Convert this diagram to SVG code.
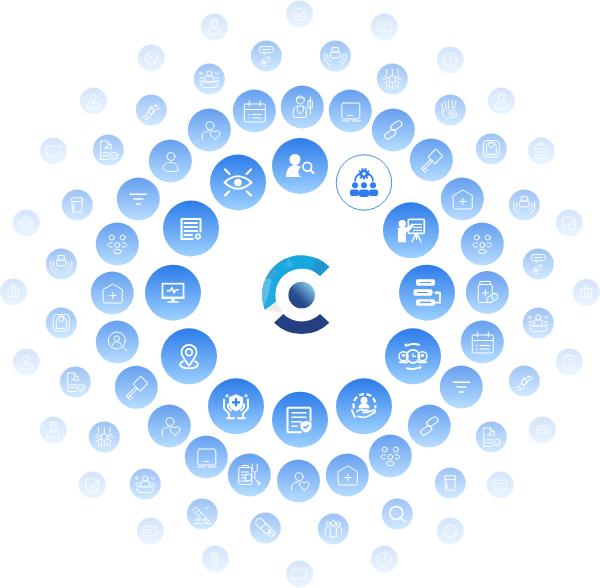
<svg xmlns="http://www.w3.org/2000/svg" width="600" height="588" viewBox="0 0 600 588">
<style>
.bg{fill:url(#g)}
.r2{opacity:.72}.r3{opacity:.45}.r4{opacity:.2}
.l{fill:none;stroke:#fff;stroke-width:1;stroke-linecap:round;stroke-linejoin:round}
.t{fill:none;stroke:#fff;stroke-width:2;stroke-linecap:round;stroke-linejoin:round}
.f{fill:#fff}
.b{fill:#2f7cec}
</style>
<defs>
<linearGradient id="g" x1="0" y1="0" x2="0" y2="1"><stop offset="0" stop-color="#2c7be9"/><stop offset="1" stop-color="#9dd1ff"/></linearGradient>
<linearGradient id="ball" x1="0" y1="1" x2="1" y2="0"><stop offset="0" stop-color="#223c80"/><stop offset=".4" stop-color="#2a4f92"/><stop offset=".9" stop-color="#8ed3ee"/></linearGradient>
<clipPath id="arc"><path d="M329.4 266.700A39.600 39.600 0 0 0 265 310L276 301.700A26.500 26.500 0 0 1 320 276z"/></clipPath>
<g id="person" class="l"><circle cx=".7" cy="-4.500" r="4"/><path d="M.7 1.500c-5 0-8 2.500-8 5.500 0 2.500 3 3.500 8 3.500 3 0 6-.3 7-1 .5-4-2-8-7-8z"/></g>
<g id="pheart" class="l"><circle cx=".7" cy="-4.300" r="4"/><path d="M-7 9V6c0-3 3-5 7-5"/><path d="M5.700 9.500 1.200 5a2.600 2.600 0 0 1 4.500-3 2.600 2.600 0 0 1 4.500 3z"/></g>
<g id="cal" class="l"><rect x="-10" y="-7" width="21" height="18" rx="1.500"/><path d="M-10-1.500H11M-5-10v5M6-10v5M-6 3.500h1M-2 3.500H7M-6 7h1M-2 7H7"/></g>
<g id="filter" class="l" style="stroke-width:1.500"><path d="M-8-4.700H8M-4.500 0H4.500M-2 5H2"/></g>
<g id="group" class="l"><circle cx="-5.500" cy="-6.500" r="2.500"/><circle cx="5.500" cy="-6.500" r="2.500"/><circle cy="1" r="2.500"/><ellipse cy="7.500" rx="3.700" ry="2.300"/><path d="M-5-1h-2c-3 0-3 4 0 4h2M5-1h2c3 0 3 4 0 4H5"/></g>
<g id="home" class="l"><path d="M-9-3.500 .5-9 10-3.500V8a2 2 0 0 1-2 2H-7a2 2 0 0 1-2-2z"/><path d="M-2.700 2.500H3.700M.5-.7V5.700"/></g>
<g id="lens" class="l"><circle cx="-.5" cy="-1.500" r="8.500"/><circle cx="-.5" cy="-3.500" r="2.700"/><path d="M-5 3.500c0-5 9-5 9 0M6 5l3.500 4"/></g>
<g id="key" class="l"><g transform="translate(-.5 1) rotate(-45)"><rect x="1" y="-5" width="11" height="10" rx="1"/><path d="M1-1.200H-12V1.200H1M-12 1.200v3.300M-9 1.200v3.300"/></g></g>
<g id="laptop" class="l"><rect x="-8.500" y="-8" width="18" height="16" rx="2"/><path d="M-2.500 4.500h5M-9 10h8M2 10h8"/></g>
<g id="link" class="l" style="stroke-width:1.100"><g transform="rotate(-35)"><rect x="-11" y="-1.200" width="12" height="6" rx="3"/><rect x="-1" y="-4.800" width="12" height="6" rx="3"/></g></g>
<g id="doctor" class="l"><circle cx="-2" cy="-7" r="4"/><path d="M-6-9h8M-9 10V3c0-2 3-4 7-4s6 2 6 4v7zM-5-1v5l3 3 3-3v-5M8-10V7M6-6h4v7H6z"/></g>
<g id="clip" class="l"><rect x="-10.500" y="-7.500" width="13" height="17" rx="1"/><path d="M-7-7.500v-2h6v2M-8-3h7M-8 0h5M-8 3h5M-8 6h7"/><circle cx="-1" cy="2.500" r="3.500"/><path d="M3-11v5c0 4 5 4 5 0v-5M5.500-2V3l4 5"/><circle cx="9.700" cy="8.500" r="1.300"/></g>
<g id="bottle" class="l"><rect x="-7" y="-11" width="10" height="3"/><rect x="-9" y="-8" width="14" height="18" rx="1.500"/><path d="M-2-2.500V3.500M-5 .5H1"/><g transform="translate(5 5.500) rotate(-30)"><rect x="-6" y="-3" width="12" height="6" rx="3" fill="#7fb5f6"/><path d="M0-3V3"/></g></g>
<g id="robot" class="l"><rect x="-3.500" y="-9" width="7" height="5" rx="1"/><rect x="-5" y="-4" width="10" height="6" rx="1"/><path d="M-2-6.500h.1M2-6.500h.1M-11-3v7l5 6M11-3v7l-5 6M-8-2v5l3 3M8-2v5l-3 3"/></g>
<g id="crowd" class="l"><circle r="3.500"/><path d="M-8-3l5 2M8-3l-5 2M-8 4l5-2M8 4 3 2M0-10V-4M0 4v6M-6-10v5M6-10v5M-6 5v5M6 5v5M-3 5v5M3 5v5M-10 0h4M10 0H6"/></g>
<g id="handgear" class="l"><path d="M-9-7l2 9M-6-9l2 9M-2-10v9M2-10v8M6-9 4-2M-9 2c1 4 4 7 8 7"/><circle cx="2.500" cy="4" r="4"/><circle cx="2.500" cy="4" r="1.500"/></g>
<g id="scale" class="l"><rect x="-8" y="-8.500" width="16" height="16.500" rx="3.500"/><path d="M-5 5-5-2a5 5 0 0 1 10 0L5 5z"/><circle cy="-4" r="2.500"/></g>
<g id="speech" class="l"><rect x="-7.500" y="-10" width="15" height="6.500" rx="3.200"/><path d="M-4.500-6.800H4.500M-3-3.500-1-1M-3 4a2 2 0 1 0 .1 0M-6 9-3 6l2 2 3-3M-1 2l4-1v3M-3 10h3"/></g>
<g id="med" class="l"><circle cy="-6" r="2.700"/><path d="M-4-3h8v6h-8zM-9 6c0-2 3-3 5-3h8c2 0 5 1 5 3s-3 3-5 3h-8c-2 0-5-1-5-3zM-10-1h4M-10 2h4M6-7l2 2 2-2M6-1h4M6 2h4"/><circle cx="-9" cy="-6" r="1.200"/></g>
<g id="dna" class="l"><path d="M-9 7c4 0 5-2 6-5s3-6 11-7M-7 10c4 0 6-2 7-5s3-6 9-7"/><circle cy="1" r="3"/><path d="M-6 5l2 3M4-6l2 3M-1-4l1 2"/></g>
<g id="docsh" class="l"><path d="M-8-9.500h7L3-5.500V-1M-1-9.500V-5.500H3M-8-9.500V10H1M-6 3H1M-6 6H1"/><path d="M-4-2h2v-2h1v2h2"/><circle cx="6" cy="6" r="3.700"/><path d="M4.300 6 5.500 7.200 7.700 4.800"/></g>
<g id="glass" class="l"><path d="M-5.500-7.500h11L4.500 7.500h-9zM-5.200-3.500h10.400M-3.500-1V6"/></g>
<g id="search" class="l" style="stroke-width:1.500"><circle cx="-1" cy="-1" r="6.500"/><path d="M3.700 3.700 8 8"/></g>
<g id="people" class="l"><circle cy="-6" r="2.300"/><circle cx="-5" cy="-5" r="2"/><circle cx="5" cy="-5" r="2"/><path d="M-3 8V-1c0-2 6-2 6 0V8M-8 5V0c0-1 2-2 3-2M8 5V0c0-1-2-2-3-2M-2 8h4"/></g>
<g id="pill" class="l"><g transform="translate(-2 -2) rotate(45)"><rect x="-9" y="-3.700" width="18" height="7.500" rx="3.700"/><path d="M0-3.700V3.800"/></g><circle cx="6" cy="5" r="3.300"/><path d="M4 3 8 7"/></g>
<g id="syringe" class="l"><path d="M-7-7 4 4l-3 3L-10-4zM-3-5l-3 3M0-2l-3 3M7-8 3-5"/><circle cx="-5" cy="6" r="1.800"/><circle cx="5" cy="7" r="1.800"/><path d="M-9 10h8M1 10h8"/></g>
<g id="nurse" class="l"><circle cy="-3.500" r="3.500"/><path d="M-3.500-6V-9h7v3M-7 8V5c0-2 3-4 7-4s7 2 7 4v3z"/></g>
<g id="block" class="l"><circle r="7"/><path d="M-5-5 5 5"/></g>
<g id="man" class="l"><circle cy="-4" r="3.300"/><path d="M-7 8V5c0-2 3-4 7-4s7 2 7 4v3zM-2 1l2 3 2-3"/></g>
<g id="map" class="l"><path d="M-8-5c3-2 5 1 8 0s6-1 8-1V5c-3-1-5 1-8 1s-5-1-8 0z"/></g>
<g id="aim" class="l"><circle r="7"/><circle r="3.500"/><path d="M0-9v3M0 9V6M-9 0h3M9 0H6M-1 0h2"/></g>
<g id="tower" class="l"><rect x="-6" y="-5" width="12" height="11"/><path d="M-2-5V6M2-5V6M0-5V-9M-3-8H3"/></g>
<g id="edit" class="l"><path d="M2-7H-4.500a2.500 2.500 0 0 0-2.500 2.500V4.500A2.500 2.500 0 0 0-4.500 7h9A2.500 2.500 0 0 0 7 4.500V-2M-1 2l7-8 1.500 1.500-7 8H-1z"/></g>
<g id="msg" class="l"><rect x="-8" y="-6" width="16" height="11.500" rx="1.500"/><path d="M-4-2H4M-4 1.500H1"/></g>
<g id="alert" class="l"><circle r="8.500"/><path d="M0-4.500V1M0 4v.1"/></g>
<g id="board" class="l"><rect x="-7" y="-7.500" width="14" height="17" rx="1.500"/><path d="M-3-7.500V-9.500H3V-7.500M-4-3h1M-1-3h5M-4 1h1M-1 1h5M-4 5h1M-1 5h5"/></g>
<g id="car" class="l"><path d="M-7 3V-1l2-4h10l2 4V3zM-7-1H7M-5 3v2M5 3v2M-4 1h.5M4 1h-.5"/></g>
<g id="bldg" class="l"><rect x="-3" y="-7.500" width="6" height="15"/><path d="M-1.500-5h3M-1.500-2h3M-1.500 1h3M-1.500 4h3"/></g>
</defs>
<g id="logo">
<g clip-path="url(#arc)">
<rect x="255" y="250" width="90" height="70" fill="#17a8e0"/>
<polygon points="270,272 288,258 300,255 292,250 262,262" fill="#2aa0d8"/>
<polygon points="284,268 288,257 294,266" fill="#34ade0"/>
<polygon points="262,274 272,280 268,296 262,310 272,305 278,292" fill="#22aee5"/>
<polygon points="262,278 272,279 268,296 262,310" fill="#5dbde6"/>
<polygon points="262,262 265,275 272,280 278,272" fill="#3aa3d6"/>
<polygon points="272,280 281,296 265,310" fill="#1face4"/>
<polygon points="316,256 333,264 322,280 312,270" fill="#2296d0"/>
</g>
<polygon points="265,310 276,301.700 279,306 283,313" fill="#ececee"/>
<path d="M274 322.700A39.300 39.300 0 0 0 329.400 322.700L320 314A26 26 0 0 1 283.300 314z" fill="#243f82"/>
<circle cx="301.700" cy="295" r="13.300" fill="url(#ball)"/>
</g>
<g id="connectors"/>
<g id="nodes">
<!-- ring 4 -->
<g id="n4-1" class="r4" transform="translate(299.500 14)"><circle class="bg" r="13.500"/><use href="#edit" transform="scale(.8)"/></g>
<g id="n4-2" class="r4" transform="translate(384.300 27)"><circle class="bg" r="13.500"/><use href="#msg" transform="scale(.8)"/></g>
<g id="n4-3" class="r4" transform="translate(450.300 60)"><circle class="bg" r="13.500"/><use href="#alert" transform="scale(.8)"/></g>
<g id="n4-4" class="r4" transform="translate(501.300 101)"><circle class="bg" r="13.500"/><use href="#nurse" transform="scale(.85)"/></g>
<g id="n4-5" class="r4" transform="translate(541.300 151)"><circle class="bg" r="13.500"/><use href="#board" transform="scale(.8)"/></g>
<g id="n4-6" class="r4" transform="translate(569.300 223)"><circle class="bg" r="13.500"/><use href="#edit" transform="scale(.9)"/></g>
<g id="n4-7" class="r4" transform="translate(586.300 292.500)"><circle class="bg" r="13.500"/><use href="#tower" transform="scale(.8)"/></g>
<g id="n4-8" class="r4" transform="translate(569.300 362)"><circle class="bg" r="13.500"/><use href="#board" transform="scale(.8)"/></g>
<g id="n4-9" class="r4" transform="translate(542.300 430)"><circle class="bg" r="13.500"/><use href="#car" transform="scale(.8)"/></g>
<g id="n4-10" class="r4" transform="translate(500.300 485)"><circle class="bg" r="13.500"/><use href="#msg" transform="scale(.8)"/></g>
<g id="n4-11" class="r4" transform="translate(450.300 531)"><circle class="bg" r="13.500"/><use href="#block" transform="scale(.85)"/></g>
<g id="n4-12" class="r4" transform="translate(384.300 559)"><circle class="bg" r="13.500"/><use href="#alert" transform="scale(.8)"/></g>
<g id="n4-13" class="r4" transform="translate(299.500 574)"><circle class="bg" r="13.500"/><use href="#map" transform="scale(.85)"/></g>
<g id="n4-14" class="r4" transform="translate(215.300 559)"><circle class="bg" r="13.500"/><use href="#bldg" transform="scale(.8)"/></g>
<g id="n4-15" class="r4" transform="translate(150.300 531)"><circle class="bg" r="13.500"/><use href="#msg" transform="scale(.8)"/></g>
<g id="n4-16" class="r4" transform="translate(92.300 485)"><circle class="bg" r="13.500"/><use href="#edit" transform="scale(.9)"/></g>
<g id="n4-17" class="r4" transform="translate(53.300 430)"><circle class="bg" r="13.500"/><use href="#nurse" transform="scale(.85)"/></g>
<g id="n4-18" class="r4" transform="translate(26.300 362)"><circle class="bg" r="13.500"/><use href="#man" transform="scale(.85)"/></g>
<g id="n4-19" class="r4" transform="translate(13.300 292)"><circle class="bg" r="13.500"/><use href="#tower" transform="scale(.8)"/></g>
<g id="n4-20" class="r4" transform="translate(26.300 223)"><circle class="bg" r="13.500"/><use href="#aim" transform="scale(.85)"/></g>
<g id="n4-21" class="r4" transform="translate(53.300 151)"><circle class="bg" r="13.500"/><use href="#map" transform="scale(.85)"/></g>
<g id="n4-22" class="r4" transform="translate(93.300 101)"><circle class="bg" r="13.500"/><use href="#man" transform="scale(.85)"/></g>
<g id="n4-23" class="r4" transform="translate(151.300 58)"><circle class="bg" r="13.500"/><use href="#block" transform="scale(.85)"/></g>
<g id="n4-24" class="r4" transform="translate(214.300 27)"><circle class="bg" r="13.500"/><use href="#nurse" transform="scale(.85)"/></g>
<!-- ring 3 -->
<g id="n3-1" class="r3" transform="translate(335.300 56)"><circle class="bg" r="15.500"/><use href="#robot" transform="scale(.95)"/></g>
<g id="n3-2" class="r3" transform="translate(392.300 79)"><circle class="bg" r="15.500"/><use href="#crowd" transform="scale(.95)"/></g>
<g id="n3-3" class="r3" transform="translate(450.300 110)"><circle class="bg" r="15.500"/><use href="#handgear" transform="scale(.95)"/></g>
<g id="n3-4" class="r3" transform="translate(491.300 149)"><circle class="bg" r="15.500"/><use href="#scale"/></g>
<g id="n3-5" class="r3" transform="translate(524.300 205)"><circle class="bg" r="15.500"/><use href="#robot" transform="scale(.95)"/></g>
<g id="n3-6" class="r3" transform="translate(538.300 264)"><circle class="bg" r="15.500"/><use href="#speech" transform="scale(.95)"/></g>
<g id="n3-7" class="r3" transform="translate(538.300 323)"><circle class="bg" r="15.500"/><use href="#med" transform="scale(.95)"/></g>
<g id="n3-8" class="r3" transform="translate(524.300 381)"><circle class="bg" r="15.500"/><use href="#dna" transform="scale(.95)"/></g>
<g id="n3-9" class="r3" transform="translate(491.300 437)"><circle class="bg" r="15.500"/><use href="#docsh" transform="scale(.95)"/></g>
<g id="n3-10" class="r3" transform="translate(450.300 483)"><circle class="bg" r="15.500"/><use href="#glass" transform="scale(.95)"/></g>
<g id="n3-11" class="r3" transform="translate(397.300 514)"><circle class="bg" r="15.500"/><use href="#search"/></g>
<g id="n3-12" class="r3" transform="translate(333.300 529)"><circle class="bg" r="15.500"/><use href="#people"/></g>
<g id="n3-13" class="r3" transform="translate(265.300 528)"><circle class="bg" r="15.500"/><use href="#pill"/></g>
<g id="n3-14" class="r3" transform="translate(202.300 514)"><circle class="bg" r="15.500"/><use href="#syringe" transform="scale(.95)"/></g>
<g id="n3-15" class="r3" transform="translate(145.300 484)"><circle class="bg" r="15.500"/><use href="#med" transform="scale(.95)"/></g>
<g id="n3-16" class="r3" transform="translate(104.300 437)"><circle class="bg" r="15.500"/><use href="#crowd" transform="scale(.95)"/></g>
<g id="n3-17" class="r3" transform="translate(75.300 382)"><circle class="bg" r="15.500"/><use href="#docsh" transform="scale(.95)"/></g>
<g id="n3-18" class="r3" transform="translate(61.300 323)"><circle class="bg" r="15.500"/><use href="#scale"/></g>
<g id="n3-19" class="r3" transform="translate(61.300 264)"><circle class="bg" r="15.500"/><use href="#robot" transform="scale(.95)"/></g>
<g id="n3-20" class="r3" transform="translate(77.300 205)"><circle class="bg" r="15.500"/><use href="#glass" transform="scale(.95)"/></g>
<g id="n3-21" class="r3" transform="translate(108.300 150)"><circle class="bg" r="15.500"/><use href="#docsh" transform="scale(.95)"/></g>
<g id="n3-22" class="r3" transform="translate(151.300 110)"><circle class="bg" r="15.500"/><use href="#dna" transform="scale(.95)"/></g>
<g id="n3-23" class="r3" transform="translate(209.300 79)"><circle class="bg" r="15.500"/><use href="#med" transform="scale(.95)"/></g>
<g id="n3-24" class="r3" transform="translate(266.300 56)"><circle class="bg" r="15.500"/><use href="#speech" transform="scale(.95)"/></g>
<!-- ring 2 -->
<g id="n2-1" class="r2" transform="translate(302.300 107)"><circle class="bg" r="21.500"/><use href="#doctor"/></g>
<g id="n2-2" class="r2" transform="translate(350.300 111)"><circle class="bg" r="21.500"/><use href="#laptop"/></g>
<g id="n2-3" class="r2" transform="translate(393.300 130)"><circle class="bg" r="21.500"/><use href="#link"/></g>
<g id="n2-4" class="r2" transform="translate(431.300 160)"><circle class="bg" r="21.500"/><use href="#key"/></g>
<g id="n2-5" class="r2" transform="translate(462.300 199)"><circle class="bg" r="21.500"/><use href="#home"/></g>
<g id="n2-6" class="r2" transform="translate(482.300 244)"><circle class="bg" r="21.500"/><use href="#group"/></g>
<g id="n2-7" class="r2" transform="translate(487.300 292.500)"><circle class="bg" r="21.500"/><use href="#bottle"/></g>
<g id="n2-8" class="r2" transform="translate(482.300 342)"><circle class="bg" r="21.500"/><use href="#cal"/></g>
<g id="n2-9" class="r2" transform="translate(461.300 387)"><circle class="bg" r="21.500"/><use href="#filter"/></g>
<g id="n2-10" class="r2" transform="translate(429.300 426)"><circle class="bg" r="21.500"/><use href="#link"/></g>
<g id="n2-11" class="r2" transform="translate(390.300 456)"><circle class="bg" r="21.500"/><use href="#group"/></g>
<g id="n2-12" class="r2" transform="translate(347.300 475)"><circle class="bg" r="21.500"/><use href="#home"/></g>
<g id="n2-13" class="r2" transform="translate(298.500 481)"><circle class="bg" r="21.500"/><use href="#pheart"/></g>
<g id="n2-14" class="r2" transform="translate(249.300 475)"><circle class="bg" r="21.500"/><use href="#clip"/></g>
<g id="n2-15" class="r2" transform="translate(206.300 457)"><circle class="bg" r="21.500"/><use href="#laptop"/></g>
<g id="n2-16" class="r2" transform="translate(169.300 426)"><circle class="bg" r="21.500"/><use href="#pheart"/></g>
<g id="n2-17" class="r2" transform="translate(136.300 387.300)"><circle class="bg" r="21.500"/><use href="#key"/></g>
<g id="n2-18" class="r2" transform="translate(117.300 342)"><circle class="bg" r="21.500"/><use href="#lens"/></g>
<g id="n2-19" class="r2" transform="translate(112.300 293)"><circle class="bg" r="21.500"/><use href="#home"/></g>
<g id="n2-20" class="r2" transform="translate(117.300 244)"><circle class="bg" r="21.500"/><use href="#group"/></g>
<g id="n2-21" class="r2" transform="translate(138.300 199)"><circle class="bg" r="21.500"/><use href="#filter"/></g>
<g id="n2-22" class="r2" transform="translate(170.300 161)"><circle class="bg" r="21.500"/><use href="#person"/></g>
<g id="n2-23" class="r2" transform="translate(209.300 130)"><circle class="bg" r="21.500"/><use href="#pheart"/></g>
<g id="n2-24" class="r2" transform="translate(254.300 111)"><circle class="bg" r="21.500"/><use href="#cal"/></g>
<!-- ring 1 -->
<g id="n1-search" transform="translate(300 166)"><circle class="bg" r="28"/><circle class="f" cx="-5" cy="-6.500" r="5.500"/><path class="f" d="M-14 11c0-8 4-12 9-12 2 0 5 1 6 2a6 6 0 0 0 0 10z"/><circle cx="7.300" cy=".7" r="4.300" fill="none" stroke="#fff" stroke-width="1.800"/><path d="M10.500 4 13.500 7" stroke="#fff" stroke-width="2" stroke-linecap="round"/></g>
<g id="n1-eye" transform="translate(238 182.500)"><circle class="bg" r="28"/><path class="t" d="M-13.500 0Q0-12.500 13.500 0 0 12.500-13.500 0z"/><circle class="f" r="3.800"/><path class="t" style="stroke-width:2.200" d="M-13-13-8.500-8.500M13-13 8.500-8.500M-13 13-9 9M13 13 9 9"/></g>
<g id="n1-doc" transform="translate(191 228.500)"><circle class="bg" r="28"/><path class="t" d="M9.500 3V-9.500H-9.500V10.500H2"/><path class="t" d="M-6.500-5.500H6M-6.500-1.500H6M-6.500 2.500H6M-6.500 6.500H1"/><circle cx="7" cy="8" r="2.200" fill="none" stroke="#fff" stroke-width="1.600"/></g>
<g id="n1-monitor" transform="translate(173 292.700)"><circle class="bg" r="28"/><rect x="-10.500" y="-9" width="21" height="14" fill="none" stroke="#fff" stroke-width="1.700"/><path d="M-6-2h3l2-3 2 5 2-3h3" fill="none" stroke="#fff" stroke-width="1.600" stroke-linejoin="round"/><path class="f" d="M-11.500 4h23v2h-23zM-1.500 6h3v3h-3zM-5.500 8.500h11v1.500h-11z"/></g>
<g id="n1-pin" transform="translate(189 356.300)"><circle class="bg" r="28"/><path class="t" style="stroke-width:1.800" d="M0 9.500C-3 5-7.500 0-7.500-4a7.500 7.500 0 0 1 15 0C7.500 0 3 5 0 9.500z"/><circle cy="-4" r="3.300" fill="none" stroke="#fff" stroke-width="1.800"/><path class="t" style="stroke-width:1.800" d="M-6 5c-5 2-4 7 6 7S11 7 6 5"/></g>
<g id="n1-hands" transform="translate(236 406.300)"><circle class="bg" r="28"/><path class="f" d="M0-12 7-9V-3C7 1 4 3.500 0 5-4 3.500-7 1-7-3V-9z"/><path d="M0-8V0M-4-4H4" stroke="#2f85ee" stroke-width="2.200"/><path class="t" style="stroke-width:1.800" d="M-12-7V2l5 5v4M-8-2v3l3 3M12-7V2l-5 5v4M8-2v3l-3 3"/><path class="t" d="M-9 12H-2M9 12H2"/><path class="l" d="M-9-12v3M-10.500-10.500h3M10-12v3M8.500-10.500h3"/></g>
<g id="n1-docshield" transform="translate(300 419.700)"><circle class="bg" r="28"/><path class="t" d="M1 12.500H-11.500a1 1 0 0 1-1-1V-11A1 1 0 0 1-11.500-12H9.500a1 1 0 0 1 1 1V1"/><path class="t" style="stroke-width:1.500" d="M-8-7H6M-8-2.500H6M-8 2H1M-8 6.500h5"/><path class="f" d="M6 1 11.500 3V7C11.500 10 9 12 6 13 3 12 .5 10 .5 7V3z"/><path d="M3.500 6.500 5.500 8.500 8.500 5" fill="none" stroke="#5fa7f4" stroke-width="1.500"/></g>
<g id="n1-handperson" transform="translate(364 406.300)"><circle class="bg" r="28"/><circle class="f" cy="-6" r="3.500"/><path class="f" d="M-5.500 2c0-4 3-5 5.500-5s5.500 1 5.500 5z"/><path d="M-10 2A11 11 0 1 1 11 2" fill="none" stroke="#fff" stroke-width="2.200" stroke-dasharray="5 2.500"/><path class="t" style="stroke-width:1.800" d="M-7 5c3-2 5-2 7-1h4c1 1 0 2-1 2h-4M3 6l6-2c2-1 3 1 2 2l-7 4c-4 2-6 1-10 0"/><path class="t" d="M-12 4-9 11"/></g>
<g id="n1-clock" transform="translate(413 356.300)"><circle class="bg" r="28"/><circle r="6.500" fill="none" stroke="#fff" stroke-width="1.800"/><path d="M0-3V0H3" fill="none" stroke="#fff" stroke-width="1.200"/><circle cx="-9.500" r="4.500" fill="none" stroke="#fff" stroke-width="1.500"/><circle cx="9.500" r="4.500" fill="none" stroke="#fff" stroke-width="1.500"/><circle class="f" cx="-9.500" cy="-1" r="1.600"/><circle class="f" cx="9.500" cy="-1" r="1.600"/><path class="t" d="M-6 6H-13M6 6H13M6-11.500C3-12.500-3-12.500-5-11M-6 12C-3 13 3 13 5 11.500"/><path class="f" d="M-6-13.500V-9L-9-11zM6 13.500V9L9 11z"/></g>
<g id="n1-server" transform="translate(427 292.700)"><circle class="bg" r="28"/><rect x="-11" y="-13.500" width="19" height="6.500" rx="2" class="f"/><rect x="-13.500" y="-3.500" width="19" height="6.500" rx="2" class="f"/><rect x="-11" y="6.500" width="19" height="6.500" rx="2" class="f"/><path d="M-7-10.200H4M-9.500-.2H1M-7 9.700H4" stroke="#4e9bf1" stroke-width="1.200"/><path class="t" style="stroke-width:1.800" d="M8 10H13V0H8"/><path class="f" d="M9-2l4 2-4 2z"/></g>
<g id="n1-teacher" transform="translate(411 230.300)"><circle class="bg" r="28"/><circle class="f" cx="-8.700" cy="-6.500" r="3.700"/><path class="f" d="M-14-1c0-1 2-2 5-2h3l3 0L1-7 3-5-1 0-5 2V12H-13V-1z"/><rect x="-2.700" y="-11" width="16" height="14" rx="1" fill="none" stroke="#fff" stroke-width="1.700"/><path d="M2-6H11M2-3H11M2 0H11" stroke="#fff" stroke-width="1.200"/><path class="t" style="stroke-width:1.500" d="M5 3 1 11.500M5.500 3V9M6 3 10 11.500"/></g>
<g id="n1-team" transform="translate(364 182.500)"><circle r="27.700" fill="#fff" stroke="#3a82ea" stroke-width=".9"/><circle cy="-8.700" r="3" fill="none" stroke="#2f7cec" stroke-width="2.500"/><circle cy="-8.700" r="5" fill="none" stroke="#2f7cec" stroke-width="1.600" stroke-dasharray="2 1.400"/><path d="M-9-1C-9-6-6-8-4-9M9-1C9-6 6-8 4-9" fill="none" stroke="#2f7cec" stroke-width="1.600"/><circle class="b" cx="-9" cy="2.700" r="3"/><circle class="b" cy="2.700" r="3"/><circle class="b" cx="9" cy="2.700" r="3"/><rect class="b" x="-14" y="7" width="9" height="6.500" rx="2"/><rect class="b" x="5" y="7" width="9" height="6.500" rx="2"/><rect class="b" x="-5" y="7" width="10" height="7.500" rx="2.500"/></g>
</g>
</svg>
